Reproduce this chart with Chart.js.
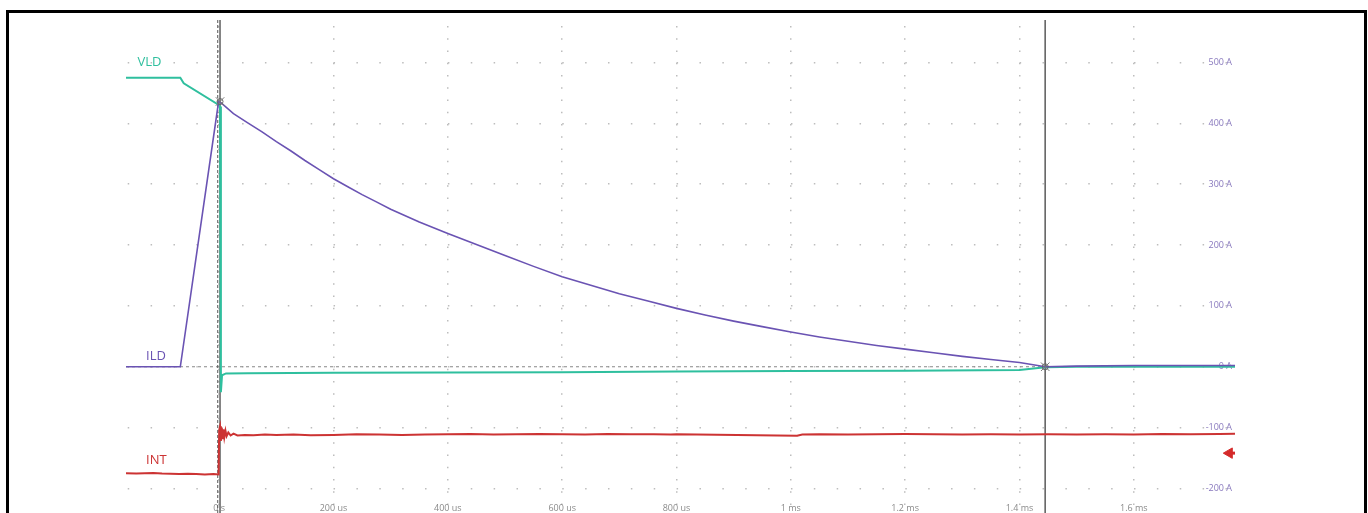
<!DOCTYPE html>
<html>
<head>
<meta charset="utf-8">
<script src="https://cdn.jsdelivr.net/npm/chart.js@4.4.1/dist/chart.umd.min.js"></script>
<style>
  html, body { margin: 0; padding: 0; background: #fff; overflow: hidden; }
  #frame { position: absolute; left: 6px; top: 10px; width: 1355px; height: 560px; border: 3px solid #000; }
  #frame canvas { display: block; }
</style>
</head>
<body>
<div id="frame"><canvas id="scope" width="1355" height="540"></canvas></div>
<script>
// time in microseconds, values in A (right-hand scale)
const xTicks = [0, 200, 400, 600, 800, 1000, 1200, 1400, 1600];
const xTickLabels = ['0 s', '200 us', '400 us', '600 us', '800 us', '1 ms', '1.2 ms', '1.4 ms', '1.6 ms'];
const yTicks = [-200, -100, 0, 100, 200, 300, 400, 500];
const yTickLabels = ['-200 A', '-100 A', '0 A', '100 A', '200 A', '300 A', '400 A', '500 A'];

const vldTime   = [-163, -68, -62, 0, 1.5, 3, 5, 12, 50, 200, 400, 600, 800, 1000, 1200, 1400, 1445, 1500, 1777];
const vldValues = [475, 475, 466, 430, 428, -42, -14, -11, -10.5, -10, -9.5, -9, -8, -7, -6.5, -5.5, -1, 0, 0];

const ildTime   = [-163, -68, -1, 3, 25, 50, 75, 100, 125, 150, 175, 200, 225, 250, 275, 300, 350, 400, 450, 500, 550, 600, 650, 700, 750, 800, 850, 900, 950, 1000, 1050, 1100, 1150, 1200, 1250, 1300, 1350, 1400, 1445, 1500, 1600, 1700, 1777];
const ildValues = [0, 0, 436, 434, 416, 401, 386, 370, 355, 339, 324, 309, 296, 283, 271, 259, 238, 219, 201, 183, 165, 148, 134, 120, 108, 96, 85, 75, 66, 57, 49, 42, 35, 29, 23, 17, 12, 7, 0, 1, 2, 2, 2];

const intTime   = [-163, -145, -130, -115, -100, -85, -70, -55, -40, -25, -10, -1, 0, 1.5, 3, 4.5, 6, 7.5, 9, 11, 13, 16, 20, 25, 32, 45, 60, 80, 100, 130, 160, 200, 240, 280, 320, 360, 400, 440, 480, 520, 560, 600, 640, 680, 720, 760, 790, 800, 1011, 1020, 1050, 1100, 1150, 1200, 1250, 1300, 1350, 1400, 1450, 1500, 1550, 1600, 1650, 1700, 1750, 1777];
const intValues = [-175, -175.5, -175, -174.5, -175.5, -176, -176.5, -176, -176.5, -177, -176.5, -177, -104, -98, -122, -100, -119, -103, -116, -105, -114, -108, -113, -110, -113, -112, -112.5, -111.5, -112, -111.5, -112.5, -112, -111, -111.5, -112, -111.5, -111, -110.5, -111.5, -111, -110.5, -111, -111.5, -110.5, -111, -111, -111.5, -111, -113.5, -111.5, -111, -111.5, -111, -110.5, -111, -111.5, -111, -111.5, -111, -111.5, -111, -111.5, -110.5, -111, -110.5, -110];

// cursor positions and channel reference marker
const cursorTimes = [1.5, 1445];
const cursorMarks = [{ x: 1.5, y: 436 }, { x: 1445, y: 0 }];
const intOffsetLevel = -142;

const channelLabels = [
  { text: 'VLD', t: -143, v: 500, color: '#2fbf9e' },
  { text: 'ILD', t: -128, v: 18, color: '#6a53b3' },
  { text: 'INT', t: -128, v: -154, color: '#cc3333' }
];

const X_MIN = -163, X_MAX = 1777, Y_MIN = -270, Y_MAX = 570;

const pts = (ts, vs) => ts.map((t, i) => ({ x: t, y: vs[i] }));

const noPad = s => { s.paddingTop = 0; s.paddingBottom = 0; s.paddingLeft = 0; s.paddingRight = 0; };

const labelPlugin = {
  id: 'channelLabels',
  afterDatasetsDraw(chart) {
    const { ctx, scales: { x, y } } = chart;
    ctx.save();
    ctx.font = '13px "Open Sans"';
    ctx.textBaseline = 'middle';
    channelLabels.forEach(l => {
      ctx.fillStyle = l.color;
      ctx.fillText(l.text, x.getPixelForValue(l.t), y.getPixelForValue(l.v));
    });
    ctx.restore();
  }
};

const flat = { pointRadius: 0, tension: 0, fill: false };

new Chart(document.getElementById('scope'), {
  type: 'line',
  data: {
    datasets: [
      { data: cursorMarks, showLine: false, pointStyle: 'crossRot', pointRadius: 6, borderColor: '#777', borderWidth: 1 },
      { data: cursorMarks, showLine: false, pointStyle: 'circle', pointRadius: 3, borderColor: '#666', backgroundColor: 'rgba(0,0,0,0)', borderWidth: 1 },
      { data: [{ x: 1767, y: intOffsetLevel }], showLine: false, pointStyle: 'triangle', rotation: -90, pointRadius: 6, backgroundColor: '#d42a2a', borderColor: '#d42a2a', borderWidth: 1, clip: false },
      { data: [{ x: 1767, y: intOffsetLevel }, { x: X_MAX, y: intOffsetLevel }], ...flat, borderColor: '#d42a2a', borderWidth: 3 },
      { data: pts(ildTime, ildValues), ...flat, borderColor: '#6a53b3', borderWidth: 1.6 },
      { data: pts(vldTime, vldValues), ...flat, borderColor: '#2fbf9e', borderWidth: 2 },
      { data: pts(intTime, intValues), ...flat, borderColor: '#cc3333', borderWidth: 2 },
      { data: [{ x: cursorTimes[0], y: Y_MAX }, { x: cursorTimes[0], y: Y_MIN }], ...flat, borderColor: '#777', borderWidth: 1 },
      { data: [{ x: cursorTimes[0] - 4, y: Y_MAX }, { x: cursorTimes[0] - 4, y: Y_MIN }], ...flat, borderColor: '#555', borderWidth: 1, borderDash: [3, 2] },
      { data: [{ x: cursorTimes[1], y: Y_MAX }, { x: cursorTimes[1], y: Y_MIN }], ...flat, borderColor: '#666', borderWidth: 1 },
      { data: [{ x: X_MIN, y: 0 }, { x: cursorTimes[1], y: 0 }], ...flat, borderColor: '#888', borderWidth: 1, borderDash: [3, 3] }
    ]
  },
  options: {
    responsive: false,
    animation: false,
    events: [],
    layout: { padding: { left: 117, top: 2, right: 129, bottom: 22 } },
    plugins: { legend: { display: false }, tooltip: { enabled: false } },
    scales: {
      x: {
        type: 'linear',
        min: X_MIN,
        max: X_MAX,
        afterFit: s => { s.height = 0; noPad(s); },
        afterBuildTicks: s => { s.ticks = xTicks.map(v => ({ value: v })); },
        grid: { color: '#bdbdbd', lineWidth: 1.5, drawTicks: false },
        border: { display: false, dash: [1.5, 10.74], dashOffset: 6.12 },
        ticks: {
          mirror: true,
          padding: 17,
          maxRotation: 0,
          autoSkip: false,
          color: '#8a8a8a',
          font: { family: 'Open Sans', size: 9 },
          callback: (v) => xTickLabels[xTicks.indexOf(v)]
        }
      },
      y: {
        type: 'linear',
        position: 'right',
        min: Y_MIN,
        max: Y_MAX,
        afterFit: s => { s.width = 0; noPad(s); },
        afterBuildTicks: s => { s.ticks = yTicks.map(v => ({ value: v })); },
        grid: { color: '#bdbdbd', lineWidth: 1.5, drawTicks: false },
        border: { display: false, dash: [1.5, 21.37], dashOffset: 21.15 },
        ticks: {
          mirror: true,
          padding: -3,
          color: '#8878bd',
          font: { family: 'Open Sans', size: 9 },
          callback: (v) => yTickLabels[yTicks.indexOf(v)]
        }
      }
    }
  },
  plugins: [labelPlugin]
});
</script>
</body>
</html>
